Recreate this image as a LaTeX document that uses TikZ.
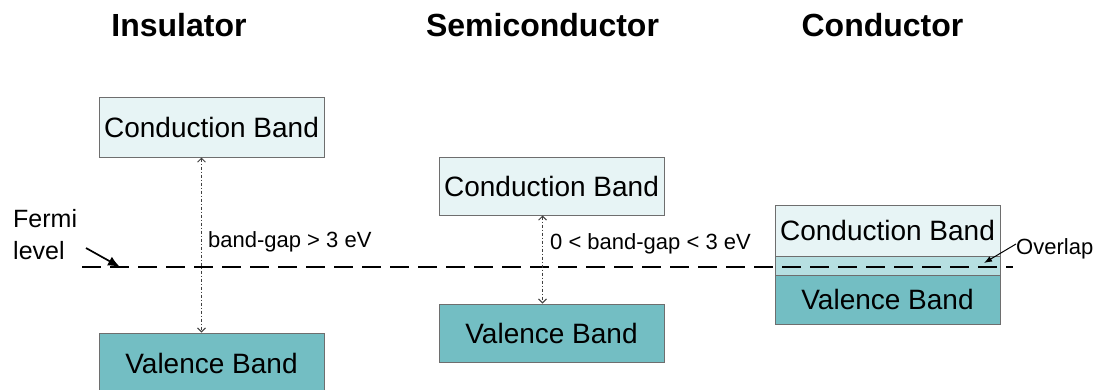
\documentclass[tikz,border=0pt]{standalone}
\usepackage{fontspec}
\setmainfont{Liberation Sans}
\usetikzlibrary{arrows.meta}
\definecolor{cbfill}{HTML}{E7F4F5}
\definecolor{vbfill}{HTML}{73BEC3}
\definecolor{ovfill}{HTML}{B6DFE1}
\definecolor{bord}{HTML}{6E6E6E}
\definecolor{gapc}{HTML}{404040}
\tikzset{
  band/.style={draw=bord, line width=1pt, inner sep=0pt, minimum width=225pt, font=\fontsize{28}{32}\selectfont},
  cband/.style={band, fill=cbfill},
  vband/.style={band, fill=vbfill},
  oband/.style={band, fill=ovfill},
  title/.style={anchor=base, font=\fontsize{32}{36}\selectfont\bfseries},
  gaplabel/.style={anchor=west, inner sep=0pt, font=\fontsize{22}{26}\selectfont},
  gaparrow/.style={gapc, line width=0.9pt, dash pattern=on 3pt off 2pt on 1pt off 2pt, {Straight Barb[length=4pt,width=8pt]}-{Straight Barb[length=4pt,width=8pt]}},
  fermiline/.style={line width=2.9pt, dash pattern=on 19pt off 9pt},
  pointer/.style={line width=1.7pt, -{Latex[length=12pt,width=10pt]}},
  smallpointer/.style={line width=1pt, -{Latex[length=8pt,width=6pt]}}
}
\begin{document}
\begin{tikzpicture}[x=1pt,y=-1pt]
\useasboundingbox (0,0) rectangle (1101,389);
% titles
\node[title] (t1) at (179,36) {Insulator};
\node[title] (t2) at (542.5,36) {Semiconductor};
\node[title] (t3) at (882.5,36) {Conductor};
% insulator
\node[cband, minimum height=60pt] (icb) at (211.5,127) {Conduction Band};
\node[vband, minimum height=60pt] (ivb) at (211.5,363) {Valence Band};
% semiconductor
\node[cband, minimum height=58pt] (scb) at (551.5,186) {Conduction Band};
\node[vband, minimum height=58pt] (svb) at (551.5,333) {Valence Band};
% conductor
\node[cband, minimum height=51pt] (ccb) at (887.5,230.5) {Conduction Band};
\node[oband, minimum height=19pt] (cov) at (887.5,265.5) {};
\node[vband, minimum height=49pt] (cvb) at (887.5,299.5) {Valence Band};
% Fermi line
\coordinate (f1) at (82,267);
\coordinate (f2) at (1013,267);
\draw[fermiline] (f1) -- (f2);
% gap arrows
\draw[gaparrow] ([xshift=103pt]icb.south west) -- ([xshift=103pt]ivb.north west);
\draw[gaparrow] ([xshift=104pt]scb.south west) -- ([xshift=104pt]svb.north west);
\node[gaplabel] (g1) at (208,242) {band-gap > 3 eV};
\node[gaplabel] (g2) at (550,244) {0 < band-gap < 3 eV};
% Fermi level label
\node[anchor=north west, inner sep=0pt, align=left, font=\fontsize{25}{32}\selectfont] (fl) at (13,209) {Fermi\\level};
\coordinate (fa) at (120,267);
\draw[pointer] (86,248) -- (fa);
% Overlap label
\node[gaplabel] (ov) at (1016,249) {Overlap};
\coordinate (oa) at (984,263);
\draw[smallpointer] ([yshift=5pt]ov.west) -- (oa);
\end{tikzpicture}
\end{document}
